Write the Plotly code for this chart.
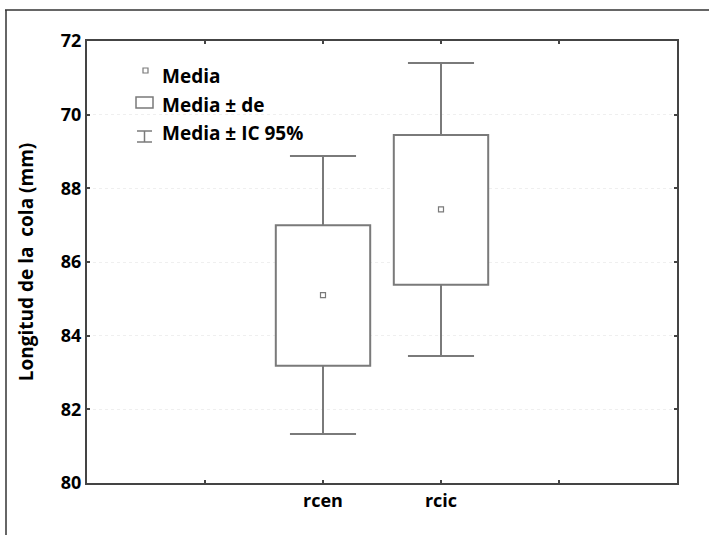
import plotly.graph_objects as go
import numpy as np

categories = ["rcen", "rcic"]
means = [85.10, 87.43]
sd_low = [83.18, 85.38]
sd_high = [87.00, 89.45]
ci_low = [81.33, 83.45]
ci_high = [88.88, 91.40]
ytick_vals = [80, 82, 84, 86, 88, 90, 92]
ytick_text = ["80", "82", "84", "86", "88", "70", "72"]

W, H = 709, 535
L, R, T, B = 87, 32, 41, 52
pw, ph = W - L - R, H - T - B

def px(x):
    return (x - L) / pw

def py(y):
    return (H - B - y) / ph

xpos = np.arange(len(categories))
LINE = "#7a7a7a"
FONT = "Open Sans"
BOXW = 0.8
CAPW = 0.56

fig = go.Figure()
# boxes: mean ± sd
fig.add_trace(go.Bar(
    x=xpos, y=np.array(sd_high) - np.array(sd_low), base=sd_low, width=BOXW,
    marker=dict(color="white", line=dict(color=LINE, width=2)),
    showlegend=False, hoverinfo="skip",
))
# whiskers: mean ± 95% CI
wx, wy = [], []
for i in range(len(categories)):
    xi = float(xpos[i])
    wx += [xi, xi, None, xi, xi, None, xi - CAPW / 2, xi + CAPW / 2, None, xi - CAPW / 2, xi + CAPW / 2, None]
    wy += [sd_high[i], ci_high[i], None, sd_low[i], ci_low[i], None, ci_high[i], ci_high[i], None, ci_low[i], ci_low[i], None]
fig.add_trace(go.Scatter(x=wx, y=wy, mode="lines", line=dict(color=LINE, width=2),
                         showlegend=False, hoverinfo="skip"))
fig.add_trace(go.Scatter(
    x=xpos, y=means, mode="markers",
    marker=dict(symbol="square-open", size=5, color=LINE, line=dict(width=1.2)),
    showlegend=False,
))

shapes = []
shapes.append(dict(type="line", xref="paper", yref="paper", x0=px(5), x1=px(709), y0=py(10), y1=py(10),
                   line=dict(color="#333333", width=1.5)))
shapes.append(dict(type="line", xref="paper", yref="paper", x0=px(6), x1=px(6), y0=py(10), y1=py(535),
                   line=dict(color="#333333", width=1.5)))
shapes.append(dict(type="rect", xref="paper", yref="paper", x0=px(143), x1=px(148), y0=py(73), y1=py(68),
                   line=dict(color=LINE, width=1.2)))
shapes.append(dict(type="rect", xref="paper", yref="paper", x0=px(136), x1=px(153), y0=py(108), y1=py(97),
                   line=dict(color=LINE, width=1.5)))
for yy in (131, 142):
    shapes.append(dict(type="line", xref="paper", yref="paper", x0=px(137), x1=px(152), y0=py(yy), y1=py(yy),
                       line=dict(color=LINE, width=1.5)))
shapes.append(dict(type="line", xref="paper", yref="paper", x0=px(144.5), x1=px(144.5), y0=py(131), y1=py(142),
                   line=dict(color=LINE, width=1.5)))

annotations = []
for txt, yc in (("Media", 76), ("Media ± de", 105), ("Media ± IC 95%", 133)):
    annotations.append(dict(text=txt, xref="paper", yref="paper", x=px(160), y=py(yc),
                            xanchor="left", yanchor="middle", showarrow=False,
                            font=dict(family=FONT, size=19, color="black", weight="bold")))

fig.update_layout(
    width=W, height=H,
    margin=dict(l=L, r=R, t=T, b=B),
    paper_bgcolor="white", plot_bgcolor="white",
    shapes=shapes, annotations=annotations,
    font=dict(family=FONT, size=18, color="black", weight="bold"),
    xaxis=dict(range=[-2, 3], tickvals=[-1, 0, 1, 2], ticktext=["", "rcen", "rcic", ""],
               showline=True, linecolor="#444444", linewidth=2, mirror="ticks",
               ticks="inside", ticklen=3, tickcolor="#444444", tickwidth=1.5,
               showgrid=False, zeroline=False,
               tickfont=dict(family=FONT, size=18, color="black", weight="bold")),
    yaxis=dict(range=[80, 92], tickvals=ytick_vals, ticktext=ytick_text,
               showline=True, linecolor="#444444", linewidth=2, mirror="ticks",
               ticks="inside", ticklen=3, tickcolor="#444444", tickwidth=1.5,
               showgrid=True, gridcolor="#efefef", griddash="dot", gridwidth=1,
               zeroline=False,
               tickfont=dict(family=FONT, size=18, color="black", weight="bold"),
               title=dict(text="Longitud de la  cola (mm)", standoff=22,
                          font=dict(family=FONT, size=19, color="black", weight="bold"))),
)

fig.write_html("out.html")
